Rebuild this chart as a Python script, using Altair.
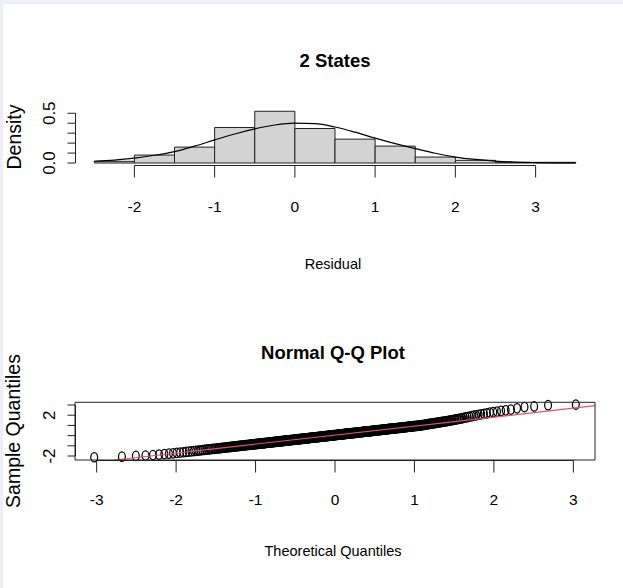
import altair as alt
import pandas as pd

# ---------------- data ----------------
hist_bin_start = [-2.5, -2.0, -1.5, -1.0, -0.5, 0.0, 0.5, 1.0, 1.5, 2.0, 2.5, 3.0]
hist_bin_end = [-2.0, -1.5, -1.0, -0.5, 0.0, 0.5, 1.0, 1.5, 2.0, 2.5, 3.0, 3.5]
hist_density = [0.017, 0.08, 0.16, 0.357, 0.52, 0.347, 0.24, 0.17, 0.06, 0.027, 0.007, 0.007]

curve_x = [-2.5, -2.25, -2.0, -1.75, -1.5, -1.25, -1.0, -0.75, -0.5, -0.25, 0.0, 0.25,
           0.5, 0.75, 1.0, 1.25, 1.5, 1.75, 2.0, 2.25, 2.5, 2.75, 3.0, 3.25, 3.5]
curve_y = [0.018, 0.030, 0.050, 0.078, 0.115, 0.170, 0.232, 0.292, 0.343, 0.382, 0.400, 0.396,
           0.362, 0.310, 0.250, 0.195, 0.145, 0.098, 0.060, 0.036, 0.020, 0.010, 0.005, 0.002, 0.001]

residual_ticks = [-2, -1, 0, 1, 2, 3]
residual_labels = ["-2", "-1", "0", "1", "2", "3"]
density_ticks = [0.0, 0.1, 0.2, 0.3, 0.4, 0.5]
density_labels = ["0.0", "", "", "", "", "0.5"]
theoretical_ticks = [-3, -2, -1, 0, 1, 2, 3]
theoretical_labels = ["-3", "-2", "-1", "0", "1", "2", "3"]
sample_ticks = [-2, -1, 0, 1, 2, 3]
sample_labels = ["-2", "", "", "", "2", ""]

sample_quantiles = [
    -2.12, -2.07, -1.99, -1.96, -1.91, -1.86, -1.81, -1.77, -1.73, -1.69,
    -1.66, -1.63, -1.60, -1.57, -1.54, -1.51, -1.49, -1.46, -1.44, -1.42,
    -1.40, -1.38, -1.36, -1.34, -1.32, -1.30, -1.29,
    -1.27, -1.25, -1.24, -1.22, -1.21,
    -1.19, -1.18, -1.17, -1.15, -1.14, -1.12, -1.11,
    -1.10, -1.09, -1.07, -1.06, -1.05, -1.04, -1.03, -1.01,
    -1.00, -0.99, -0.98, -0.97, -0.96, -0.95, -0.94, -0.93, -0.92, -0.91,
    -0.90, -0.89, -0.88, -0.87, -0.86, -0.86, -0.85, -0.84, -0.83, -0.82, -0.81,
    -0.80, -0.79, -0.78, -0.78, -0.77, -0.76, -0.75, -0.74, -0.74, -0.73, -0.72, -0.71,
    -0.70, -0.70, -0.69, -0.68, -0.67, -0.67, -0.66, -0.65, -0.64, -0.64, -0.63, -0.62, -0.61, -0.61,
    -0.60, -0.59, -0.59, -0.58, -0.57, -0.56, -0.56, -0.55, -0.54, -0.54, -0.53, -0.52, -0.52, -0.51, -0.50,
    -0.50, -0.49, -0.49, -0.48, -0.47, -0.47, -0.46, -0.45, -0.45, -0.44, -0.43, -0.43, -0.42, -0.42, -0.41, -0.40,
    -0.40, -0.39, -0.38, -0.38, -0.37, -0.37, -0.36, -0.35, -0.35, -0.34, -0.34, -0.33, -0.33, -0.32, -0.31, -0.31,
    -0.30, -0.30, -0.29, -0.28, -0.28, -0.27, -0.27, -0.26, -0.26, -0.25, -0.24, -0.24, -0.23, -0.23, -0.22, -0.22, -0.21, -0.20,
    -0.20, -0.19, -0.19, -0.18, -0.18, -0.17, -0.17, -0.16, -0.15, -0.15, -0.14, -0.14, -0.13, -0.13, -0.12, -0.12, -0.11, -0.10,
    -0.10, -0.09, -0.09, -0.08, -0.08, -0.07, -0.07, -0.06, -0.06, -0.05, -0.04, -0.04, -0.03, -0.03, -0.02, -0.02, -0.01, -0.01,
    0.00, 0.00, 0.01, 0.02, 0.02, 0.03, 0.03, 0.04, 0.04, 0.05, 0.05, 0.06, 0.06, 0.07, 0.07, 0.08, 0.09, 0.09, 0.10,
    0.10, 0.11, 0.11, 0.12, 0.12, 0.13, 0.13, 0.14, 0.14, 0.15, 0.16, 0.16, 0.17, 0.17, 0.18, 0.18, 0.19, 0.19,
    0.20, 0.20, 0.21, 0.22, 0.22, 0.23, 0.23, 0.24, 0.24, 0.25, 0.25, 0.26, 0.27, 0.27, 0.28, 0.28, 0.29, 0.29,
    0.30, 0.30, 0.31, 0.32, 0.32, 0.33, 0.33, 0.34, 0.34, 0.35, 0.36, 0.36, 0.37, 0.37, 0.38, 0.38, 0.39, 0.40,
    0.40, 0.41, 0.41, 0.42, 0.42, 0.43, 0.44, 0.44, 0.45, 0.45, 0.46, 0.47, 0.47, 0.48, 0.48, 0.49, 0.50,
    0.50, 0.51, 0.52, 0.52, 0.53, 0.53, 0.54, 0.55, 0.55, 0.56, 0.57, 0.57, 0.58, 0.59, 0.59,
    0.60, 0.60, 0.61, 0.62, 0.62, 0.63, 0.64, 0.65, 0.65, 0.66, 0.67, 0.67, 0.68, 0.69, 0.69,
    0.70, 0.71, 0.71, 0.72, 0.73, 0.74, 0.74, 0.75, 0.76, 0.77, 0.77, 0.78, 0.79, 0.80,
    0.80, 0.81, 0.82, 0.83, 0.84, 0.84, 0.85, 0.86, 0.87, 0.88, 0.88, 0.89,
    0.90, 0.91, 0.92, 0.93, 0.94, 0.95, 0.96, 0.96, 0.97, 0.98, 0.99,
    1.00, 1.02, 1.03, 1.04, 1.06, 1.07, 1.09, 1.10, 1.12, 1.14,
    1.15, 1.17, 1.18, 1.20, 1.22, 1.23, 1.25, 1.27, 1.29, 1.30,
    1.32, 1.34, 1.36, 1.38, 1.40, 1.42, 1.45, 1.47, 1.50, 1.52,
    1.55, 1.58, 1.60, 1.64, 1.67, 1.70, 1.74, 1.78, 1.82, 1.86,
    1.90, 1.95, 1.99, 2.04, 2.09, 2.14, 2.19, 2.25, 2.30, 2.36,
    2.42, 2.48, 2.55, 2.68, 2.80, 2.86, 2.98, 3.04,
]

qqline_x = [-2.773, 3.272]
qqline_y = [-2.39, 2.93]

# ---------------- styling / layout ----------------
FONT = "Liberation Sans, Arial, Helvetica, sans-serif"
INK = "#222222"
W, H = 620, 584

hist_xdom = [-2.74, 3.74]
hist_ydom = [-0.0208, 0.5408]
qq_xdom = [-3.2724, 3.2724]
qq_ydom = [-2.39, 3.265]

hx = alt.Scale(domain=hist_xdom, range=[72, 592], nice=False, zero=False)
hy = alt.Scale(domain=hist_ydom, range=[161.1, 105.2], nice=False, zero=False)
qx = alt.Scale(domain=qq_xdom, range=[72, 592], nice=False, zero=False)
qy = alt.Scale(domain=qq_ydom, range=[456, 398.3], nice=False, zero=False)


def text_layer(label, x, y, size, angle=0, bold=False):
    return alt.Chart(pd.DataFrame({"label": [label]})).mark_text(
        font=FONT, fontSize=size, fontWeight="bold" if bold else "normal", color="#000",
        align="center", baseline="alphabetic", angle=angle,
    ).encode(text="label:N", x=alt.value(x), y=alt.value(y))


def x_axis(ticks, labels, scale, y_line, label_y):
    df = pd.DataFrame({"v": ticks, "label": labels})
    line = alt.Chart(pd.DataFrame({"a": [min(ticks)], "b": [max(ticks)]})).mark_rule(
        color=INK, strokeWidth=1).encode(
        x=alt.X("a:Q", scale=scale, axis=None), x2="b:Q", y=alt.value(y_line))
    tks = alt.Chart(df).mark_rule(color=INK, strokeWidth=1).encode(
        x=alt.X("v:Q", scale=scale, axis=None), y=alt.value(y_line), y2=alt.value(y_line + 12))
    lbl = alt.Chart(df).mark_text(font=FONT, fontSize=15.5, color="#000", align="center",
                                  baseline="middle").encode(
        x=alt.X("v:Q", scale=scale, axis=None), y=alt.value(label_y), text="label:N")
    return [line, tks, lbl]


def y_axis(ticks, labels, scale, x_line):
    df = pd.DataFrame({"v": ticks, "label": labels})
    line = alt.Chart(pd.DataFrame({"a": [min(ticks)], "b": [max(ticks)]})).mark_rule(
        color=INK, strokeWidth=1).encode(
        y=alt.Y("a:Q", scale=scale, axis=None), y2="b:Q", x=alt.value(x_line))
    tks = alt.Chart(df).mark_rule(color=INK, strokeWidth=1).encode(
        y=alt.Y("v:Q", scale=scale, axis=None), x=alt.value(x_line - 8), x2=alt.value(x_line))
    lbl = alt.Chart(df).mark_text(font=FONT, fontSize=17, color="#000", align="center",
                                  baseline="alphabetic", angle=270).encode(
        y=alt.Y("v:Q", scale=scale, axis=None), x=alt.value(x_line - 21), text="label:N")
    return [line, tks, lbl]


# ---------------- top panel: histogram ----------------
hist_df = pd.DataFrame({"lo": hist_bin_start, "hi": hist_bin_end, "density": hist_density})
curve_df = pd.DataFrame({"x": curve_x, "y": curve_y})

bars = alt.Chart(hist_df).mark_rect(fill="#d3d3d3", stroke=INK, strokeWidth=1).encode(
    x=alt.X("lo:Q", scale=hx, axis=None),
    x2="hi:Q",
    y=alt.Y("density:Q", scale=hy, axis=None),
    y2=alt.datum(0),
)
curve = alt.Chart(curve_df).mark_line(color="black", strokeWidth=1.2, interpolate="monotone").encode(
    x=alt.X("x:Q", scale=hx, axis=None),
    y=alt.Y("y:Q", scale=hy, axis=None),
)
hist_layer = alt.layer(
    bars, curve,
    *x_axis(residual_ticks, residual_labels, hx, 161.5, 203),
    *y_axis(density_ticks, density_labels, hy, 72.5),
)

# ---------------- bottom panel: normal Q-Q plot ----------------
qq_df = pd.DataFrame({"v": sample_quantiles})
ELLIPSE = "M0,-1A0.72,1,0,1,1,0,1A0.72,1,0,1,1,0,-1Z"
points = alt.Chart(qq_df).transform_window(
    rank="row_number()", sort=[alt.SortField("v")]
).transform_joinaggregate(
    n="count()"
).transform_calculate(
    t="quantileNormal((datum.rank - 0.5) / datum.n)"
).mark_point(shape=ELLIPSE, size=90, filled=False, color="black", stroke="black",
             strokeWidth=1.25, opacity=1).encode(
    x=alt.X("t:Q", scale=qx, axis=None),
    y=alt.Y("v:Q", scale=qy, axis=None),
)
qqline_df = pd.DataFrame({"x": qqline_x, "y": qqline_y})
qqline = alt.Chart(qqline_df).mark_line(color="#DF536B", strokeWidth=1.2).encode(
    x=alt.X("x:Q", scale=qx, axis=None),
    y=alt.Y("y:Q", scale=qy, axis=None),
)
box_df = pd.DataFrame({"x1": [qq_xdom[0]], "x2": [qq_xdom[1]], "y1": [qq_ydom[0]], "y2": [qq_ydom[1]]})
box = alt.Chart(box_df).mark_rect(filled=False, stroke=INK, strokeWidth=1).encode(
    x=alt.X("x1:Q", scale=qx, axis=None), x2="x2:Q",
    y=alt.Y("y1:Q", scale=qy, axis=None), y2="y2:Q",
)
qq_layer = alt.layer(
    points, qqline, box,
    *x_axis(theoretical_ticks, theoretical_labels, qx, 456.5, 496),
    *y_axis(sample_ticks, sample_labels, qy, 72.5),
)

# ---------------- titles ----------------
texts = [
    text_layer("2 States", 332, 63, 18.5, bold=True),
    text_layer("Residual", 330, 265, 14.5),
    text_layer("Density", 17.5, 133, 19.5, angle=270),
    text_layer("Normal Q-Q Plot", 330, 355.3, 18.5, bold=True),
    text_layer("Theoretical Quantiles", 330, 551.5, 14.5),
    text_layer("Sample Quantiles", 17, 427, 19.5, angle=270),
]

chart = alt.layer(hist_layer, qq_layer, *texts).resolve_scale(
    x="independent", y="independent"
).properties(
    width=W, height=H,
    autosize=alt.AutoSizeParams(type="none"),
    padding={"left": 3, "top": 4, "right": 0, "bottom": 0},
    background="#eeeef9",
).configure_view(stroke=None, fill="white")

chart.save("out.html", embed_options={"renderer": "svg", "actions": False})
